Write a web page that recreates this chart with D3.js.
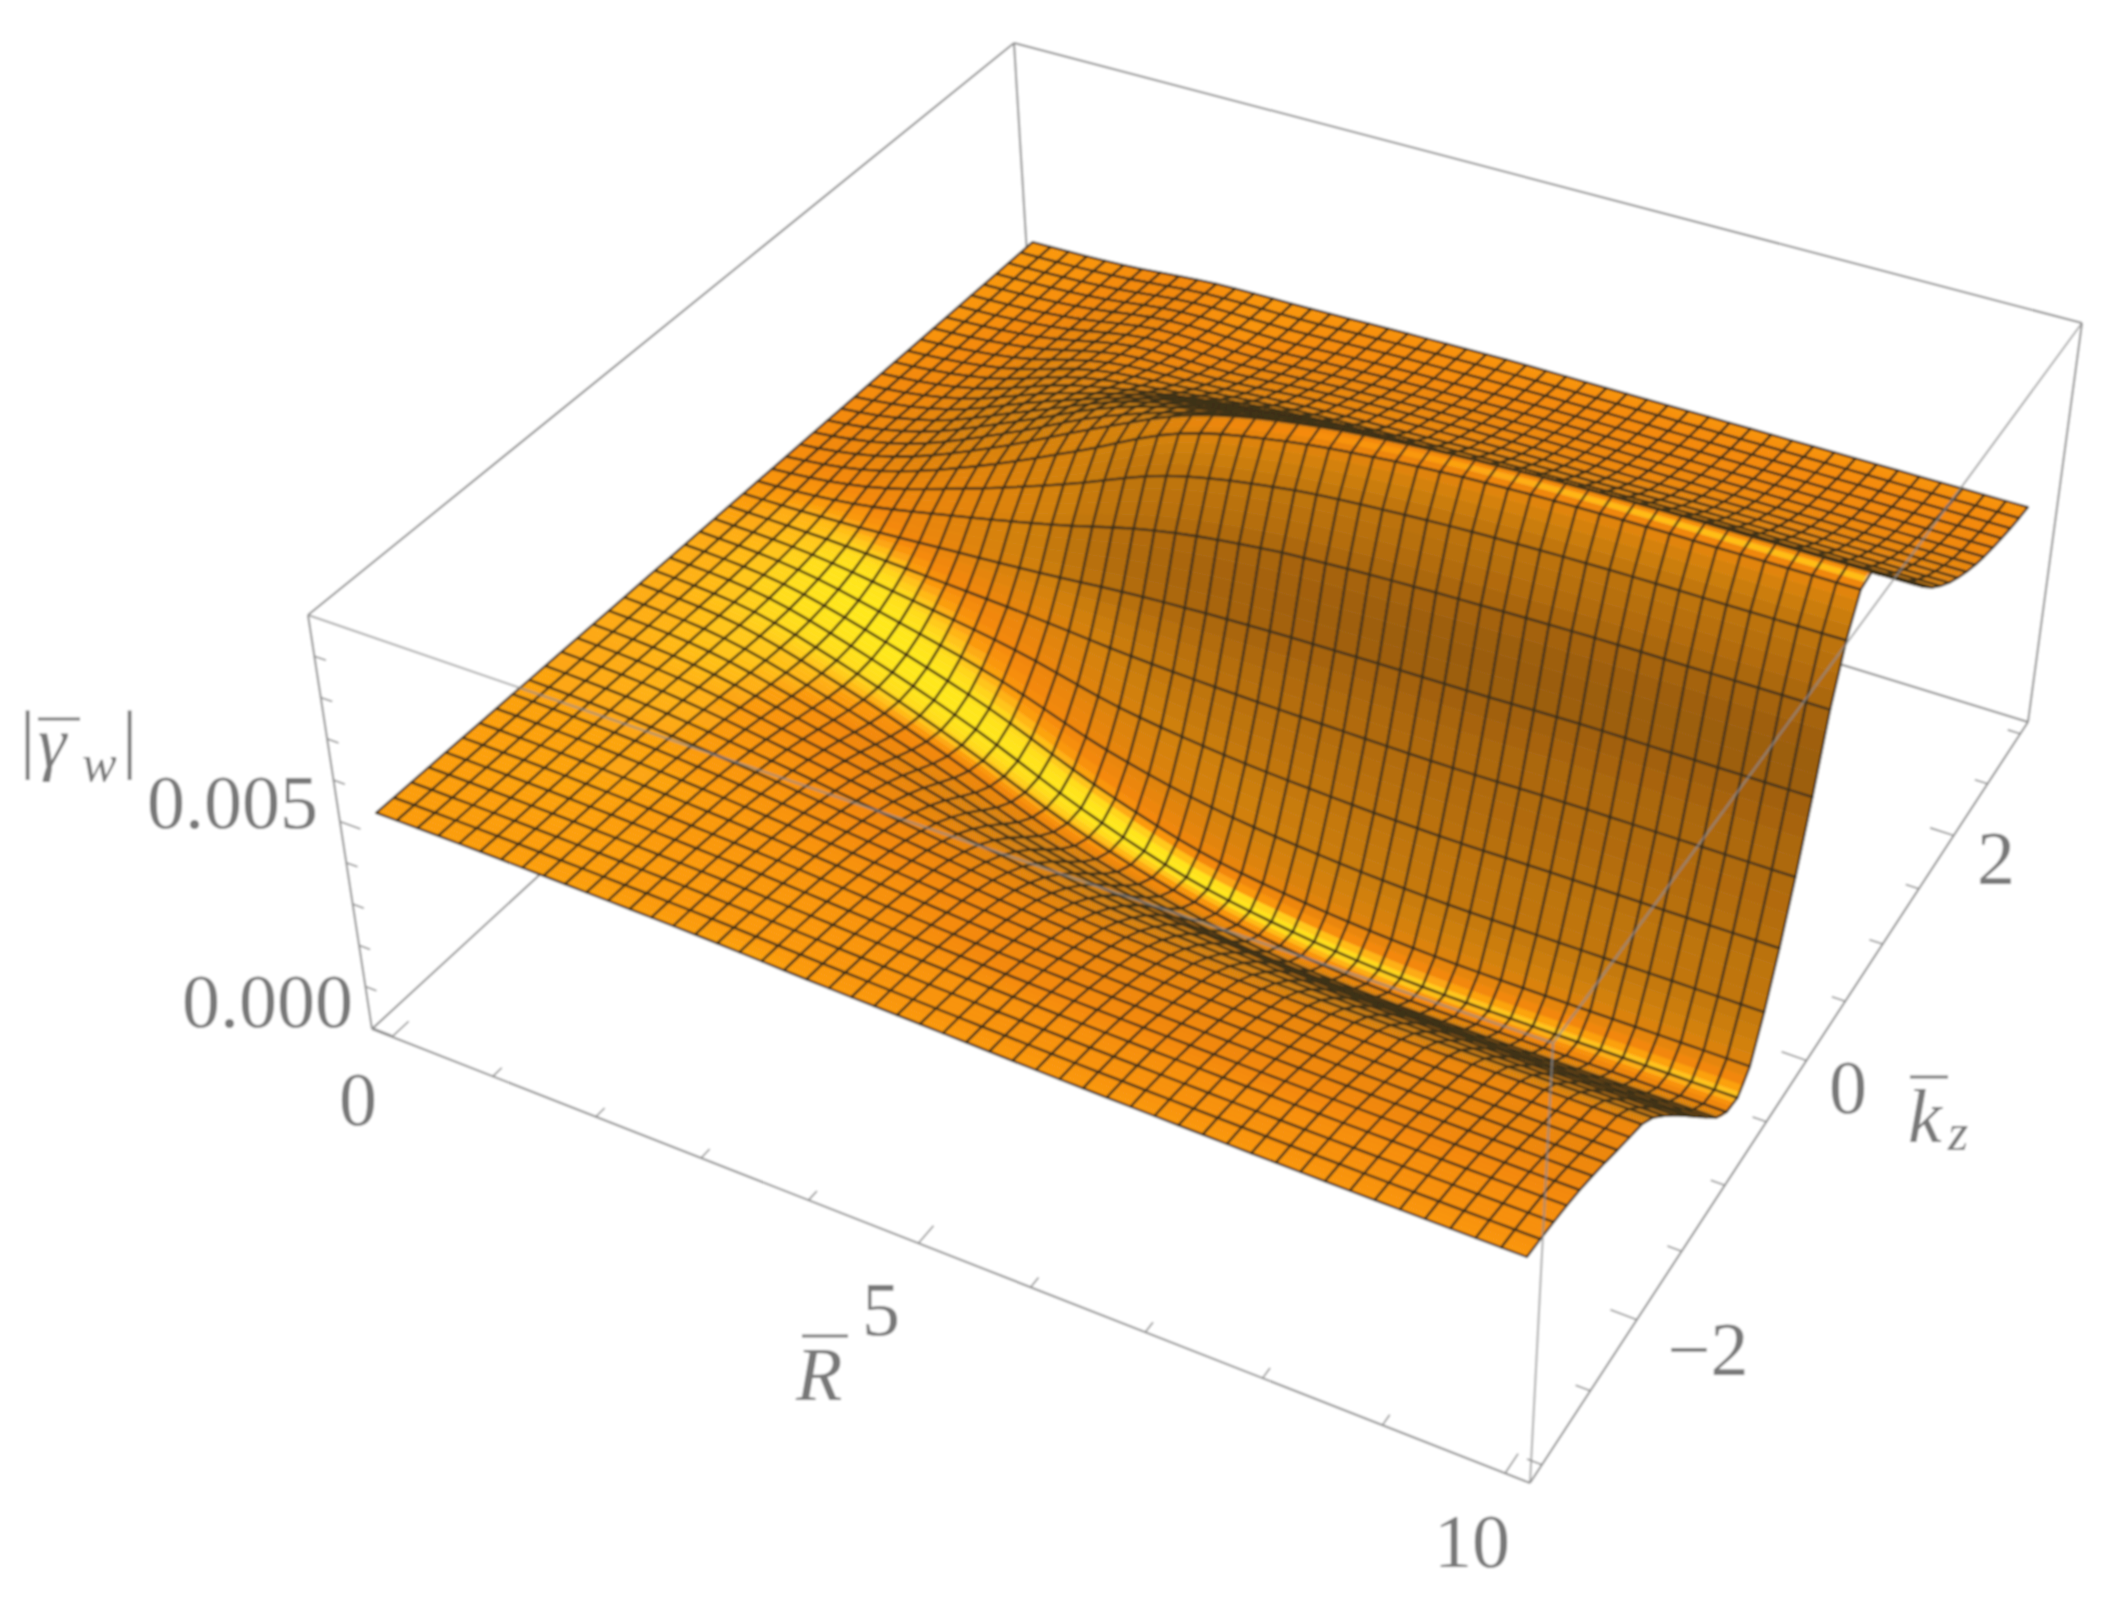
<!DOCTYPE html>
<html>
<head>
<meta charset="utf-8">
<script src="https://cdn.jsdelivr.net/npm/d3@7"></script>
<style>
html, body { margin: 0; background: #fff; }
text { font-family: "Liberation Serif", serif; fill: #787878; }
</style>
</head>
<body>
<div id="chart"></div>
<script>
/* global d3 */
const width = 2126
const height = 1606

// surface values, in units of 0.001
const rValues = [0, 1, 2, 3, 4, 5, 6, 7, 8, 9, 10]
const kzValues = [-3, -2.75, -2.5, -2.25, -2, -1.75, -1.5, -1.25, -1, -0.75, -0.5, -0.25, 0, 0.25, 0.5, 0.75, 1, 1.25, 1.5, 1.75, 2, 2.25, 2.5, 2.75, 3]
const zValues = [
  [5.05, 5.05, 5.05, 5.05, 5.05, 5.05, 5.05, 5.05, 5.05, 5.05, 5.05, 5.05, 5.05, 5.05, 5.05, 5.05, 5.05, 5.05, 5.05, 5.05, 5.05, 5.05, 5.05, 5.05, 5.05],
  [5.03, 5.02, 5.01, 5.0, 4.98, 4.95, 4.92, 4.88, 4.85, 4.83, 4.85, 4.92, 5.05, 5.3, 5.47, 5.52, 5.5, 5.45, 5.38, 5.32, 5.27, 5.22, 5.18, 5.15, 5.13],
  [4.98, 4.96, 4.93, 4.88, 4.82, 4.72, 4.58, 4.4, 4.22, 4.12, 4.2, 4.5, 5.05, 5.9, 6.4, 6.55, 6.5, 6.35, 6.15, 5.95, 5.78, 5.63, 5.5, 5.4, 5.33],
  [4.92, 4.88, 4.82, 4.73, 4.6, 4.42, 4.18, 3.85, 3.45, 3.2, 3.35, 4.0, 5.05, 6.6, 7.6, 7.75, 7.5, 7.05, 6.55, 6.15, 5.85, 5.65, 5.5, 5.42, 5.38],
  [4.82, 4.76, 4.67, 4.54, 4.37, 4.12, 3.75, 3.2, 2.55, 2.15, 2.3, 3.3, 5.05, 7.4, 8.85, 8.6, 8.05, 7.45, 6.85, 6.35, 6.05, 5.8, 5.62, 5.52, 5.45],
  [4.74, 4.66, 4.55, 4.37, 4.14, 3.83, 3.35, 2.7, 1.95, 1.4, 1.5, 2.9, 5.05, 7.85, 9.45, 9.1, 8.45, 7.7, 7.0, 6.45, 6.15, 5.9, 5.7, 5.58, 5.5],
  [4.66, 4.58, 4.46, 4.27, 4.02, 3.68, 3.15, 2.45, 1.55, 0.95, 1.1, 2.7, 5.05, 8.05, 9.75, 9.3, 8.55, 7.8, 7.05, 6.55, 6.2, 5.95, 5.75, 5.6, 5.5],
  [4.6, 4.52, 4.4, 4.2, 3.95, 3.62, 3.02, 2.25, 1.42, 0.74, 0.9, 2.6, 5.05, 8.15, 9.9, 9.4, 8.65, 7.88, 7.13, 6.6, 6.2, 5.95, 5.75, 5.6, 5.5],
  [4.55, 4.47, 4.35, 4.15, 3.9, 3.6, 2.97, 2.2, 1.38, 0.72, 0.85, 2.6, 5.1, 8.2, 9.95, 9.45, 8.7, 7.92, 7.2, 6.65, 6.25, 5.95, 5.75, 5.6, 5.5],
  [4.52, 4.44, 4.32, 4.12, 3.87, 3.6, 2.95, 2.17, 1.38, 0.72, 0.85, 2.6, 5.1, 8.2, 9.95, 9.45, 8.7, 7.92, 7.2, 6.65, 6.25, 5.95, 5.75, 5.6, 5.5],
  [4.5, 4.42, 4.3, 4.1, 3.85, 3.6, 2.95, 2.17, 1.38, 0.72, 0.85, 2.6, 5.1, 8.2, 9.95, 9.45, 8.7, 7.92, 7.2, 6.65, 6.25, 5.95, 5.75, 5.6, 5.5]
]
const rTicks = [0, 1, 2, 3, 4, 5, 6, 7, 8, 9, 10]
const rMajor = [0, 5, 10]
const kzTicks = [-3, -2.5, -2, -1.5, -1, -0.5, 0, 0.5, 1, 1.5, 2, 2.5, 3]
const kzMajor = [-2, 0, 2]
const zTicks = [0, 1, 2, 3, 4, 5, 6, 7, 8, 9]
const zMajor = [0, 5]

const rMeshCount = 50
const kzMeshCount = 45
const sliceCount = 4

// corners of the plot box on the page: R low/kz low, R high/kz low, R high/kz high, R low/kz high
const bottomQuad = [[372, 1029], [1530, 1483], [2028, 722], [1037, 417]]
const topQuad = [[308, 615], [1553, 1043], [2082, 323], [1014, 43]]

const xScale = d3.scaleLinear().domain([-0.2, 10.2]).range([0, 1])
const yScale = d3.scaleLinear().domain([-3.12, 3.12]).range([0, 1])
const zScale = d3.scaleLinear().domain([-0.03, 10]).range([0, 1])
const boxHeight = 0.42

function quadMap(q) {
  const [[x0, y0], [x1, y1], [x2, y2], [x3, y3]] = q
  const dx1 = x1 - x2
  const dx2 = x3 - x2
  const dy1 = y1 - y2
  const dy2 = y3 - y2
  const sx = x0 - x1 + x2 - x3
  const sy = y0 - y1 + y2 - y3
  const den = dx1 * dy2 - dx2 * dy1
  const g = (sx * dy2 - dx2 * sy) / den
  const h = (dx1 * sy - sx * dy1) / den
  return (u, v) => {
    const w = g * u + h * v + 1
    return [
      ((x1 - x0 + g * x1) * u + (x3 - x0 + h * x3) * v + x0) / w,
      ((y1 - y0 + g * y1) * u + (y3 - y0 + h * y3) * v + y0) / w
    ]
  }
}
const bottomMap = quadMap(bottomQuad)
const topMap = quadMap(topQuad)

function project(r, kz, z) {
  const u = xScale(r)
  const v = yScale(kz)
  const w = zScale(z)
  const a = bottomMap(u, v)
  const b = topMap(u, v)
  return [a[0] + (b[0] - a[0]) * w, a[1] + (b[1] - a[1]) * w]
}

// smooth curve through the read values, the surface version of a curved line
function spline(a, b, c, d, t) {
  return b + 0.5 * t * (c - a + t * (2 * a - 5 * b + 4 * c - d + t * (3 * (b - c) + d - a)))
}
function along(list, value) {
  const step = list[1] - list[0]
  const p = (value - list[0]) / step
  const i = Math.min(Math.floor(p), list.length - 2)
  return [i, p - i]
}
function surface(r, kz) {
  const [i, s] = along(rValues, r)
  const [j, t] = along(kzValues, kz)
  const cell = (a, b) => zValues[Math.max(0, Math.min(rValues.length - 1, a))][Math.max(0, Math.min(kzValues.length - 1, b))]
  const row = (a) => spline(cell(a, j - 1), cell(a, j), cell(a, j + 1), cell(a, j + 2), t)
  return spline(row(i - 1), row(i), row(i + 1), row(i + 2), s)
}

const light = [0.3, -0.24, 0.924]
const shade = d3.scaleLinear()
  .domain([0.3, 0.5, 0.66, 0.88, 0.924, 0.945, 0.975, 1])
  .range(['#3c2a0e', '#a46210', '#cf8010', '#f4880a', '#fb9a0e', '#ffb818', '#ffdc1e', '#ffe81f'])
  .clamp(true)

function brightness(r, kz) {
  const dr = 0.1
  const dk = 0.03
  const zz = (v) => zScale(v) * boxHeight
  const r1 = Math.min(r + dr, 10)
  const r0 = Math.max(r - dr, 0)
  const k1 = Math.min(kz + dk, 3)
  const k0 = Math.max(kz - dk, -3)
  const gx = (zz(surface(r1, kz)) - zz(surface(r0, kz))) / (xScale(r1) - xScale(r0))
  const gy = (zz(surface(r, k1)) - zz(surface(r, k0))) / (yScale(k1) - yScale(k0))
  const len = Math.hypot(gx, gy, 1)
  return (-gx * light[0] - gy * light[1] + light[2]) / len
}

const rMesh = d3.range(rMeshCount + 1).map((i) => i * 10 / rMeshCount)
const kzMesh = d3.range(kzMeshCount + 1).map((j) => -3 + j * 6 / kzMeshCount)

// far cells first so the near ones cover them
const cells = []
for (let i = 0; i < rMeshCount; i++) {
  for (let j = kzMeshCount - 1; j >= 0; j--) {
    cells.push({ i, j })
  }
}

const line = d3.line()
const point = (r, kz) => project(r, kz, surface(r, kz))

function outline(d) {
  const r0 = rMesh[d.i]
  const r1 = rMesh[d.i + 1]
  const k0 = kzMesh[d.j]
  const k1 = kzMesh[d.j + 1]
  return line([point(r0, k0), point(r1, k0), point(r1, k1), point(r0, k1)]) + 'Z'
}

function slices(d) {
  const r0 = rMesh[d.i]
  const r1 = rMesh[d.i + 1]
  const k0 = kzMesh[d.j]
  const k1 = kzMesh[d.j + 1]
  const dk = (k1 - k0) / sliceCount
  return d3.range(sliceCount).map((n) => {
    const a = k0 + n * dk
    const b = a + dk
    return {
      path: line([point(r0, a), point(r1, a), point(r1, b), point(r0, b)]) + 'Z',
      color: shade(brightness((r0 + r1) / 2, (a + b) / 2))
    }
  })
}

const svg = d3.select('#chart')
  .append('svg')
  .attr('width', width)
  .attr('height', height)
  .style('display', 'block')

svg.append('defs').append('filter')
  .attr('id', 'soft')
  .attr('x', 0).attr('y', 0).attr('width', 1).attr('height', 1)
  .append('feGaussianBlur')
  .attr('stdDeviation', 0.8)

const root = svg.append('g').attr('filter', 'url(#soft)')
root.append('rect').attr('width', width).attr('height', height).attr('fill', '#fff')

function boxLines(g, pairs) {
  g.selectAll('line')
    .data(pairs)
    .enter()
    .append('line')
    .attr('x1', (d) => d[0][0])
    .attr('y1', (d) => d[0][1])
    .attr('x2', (d) => d[1][0])
    .attr('y2', (d) => d[1][1])
    .attr('stroke', '#8e8e8e')
    .attr('stroke-width', 2)
}

const [b0, b1, b2, b3] = bottomQuad
const [t0, t1, t2, t3] = topQuad
boxLines(root.append('g'), [[b0, b1], [b1, b2], [b2, b3], [b3, b0], [t0, t3], [t3, t2], [t0, b0], [t2, b2], [t3, b3]])

const cellGroups = root.append('g')
  .selectAll('g')
  .data(cells)
  .enter()
  .append('g')

cellGroups.selectAll('path')
  .data(slices)
  .enter()
  .append('path')
  .attr('d', (d) => d.path)
  .attr('fill', (d) => d.color)
  .attr('stroke', (d) => d.color)
  .attr('stroke-width', 0.6)

cellGroups.append('path')
  .attr('d', outline)
  .attr('fill', 'none')
  .attr('stroke', '#3e3018')
  .attr('stroke-width', 2.3)
  .attr('stroke-linejoin', 'round')

boxLines(root.append('g').attr('opacity', 0.75), [[t0, t1], [t1, t2], [t1, b1]])

// ticks, the long ones carry labels
function ticks(list, major, from, dir, longLen, shortLen) {
  root.append('g')
    .selectAll('line')
    .data(list)
    .enter()
    .append('line')
    .each(function (d) {
      const len = major.includes(d) ? longLen : shortLen
      const a = from(d)
      const b = dir(d, len)
      d3.select(this)
        .attr('x1', a[0]).attr('y1', a[1])
        .attr('x2', b[0]).attr('y2', b[1])
    })
    .attr('stroke', '#8e8e8e')
    .attr('stroke-width', 1.6)
}
const rLow = xScale.domain()[0]
const rHigh = xScale.domain()[1]
const kzLow = yScale.domain()[0]
const zLow = zScale.domain()[0]
ticks(rTicks, rMajor, (d) => project(d, kzLow, zLow), (d, n) => project(d, kzLow + n, zLow), 0.13, 0.07)
ticks(kzTicks, kzMajor, (d) => project(rHigh, d, zLow), (d, n) => project(rHigh - n, d, zLow), 0.22, 0.12)
ticks(zTicks, zMajor, (d) => project(rLow, kzLow, d), (d, n) => project(rLow + n, kzLow, d), 0.2, 0.11)

const tickLabels = [
  { text: '0.005', x: 318, y: 828, anchor: 'end' },
  { text: '0.000', x: 353, y: 1027, anchor: 'end' },
  { text: '0', x: 358, y: 1125, anchor: 'middle' },
  { text: '5', x: 881, y: 1335, anchor: 'middle' },
  { text: '10', x: 1472, y: 1567, anchor: 'middle' },
  { text: '\u22122', x: 1708, y: 1375, anchor: 'middle' },
  { text: '0', x: 1848, y: 1113, anchor: 'middle' },
  { text: '2', x: 1996, y: 884, anchor: 'middle' }
]
root.append('g')
  .selectAll('text')
  .data(tickLabels)
  .enter()
  .append('text')
  .attr('x', (d) => d.x)
  .attr('y', (d) => d.y)
  .attr('text-anchor', (d) => d.anchor)
  .attr('font-size', 76)
  .text((d) => d.text)

function label(x, y, size, text, italic) {
  root.append('text')
    .attr('x', x)
    .attr('y', y)
    .attr('font-size', size)
    .attr('font-style', italic ? 'italic' : 'normal')
    .text(text)
}
function overbar(x1, x2, y) {
  root.append('line')
    .attr('x1', x1).attr('x2', x2)
    .attr('y1', y).attr('y2', y)
    .attr('stroke', '#787878')
    .attr('stroke-width', 3)
}

// |gamma_w|
label(20, 764, 76, '|')
label(38, 767, 72, '\u03b3', true)
label(82, 781, 52, 'w', true)
label(122, 764, 76, '|')
overbar(38, 80, 719)

// R bar
label(796, 1400, 76, 'R', true)
overbar(802, 848, 1336)

// kz bar
label(1908, 1142, 76, 'k', true)
label(1948, 1150, 52, 'z', true)
overbar(1910, 1948, 1077)
</script>
</body>
</html>
